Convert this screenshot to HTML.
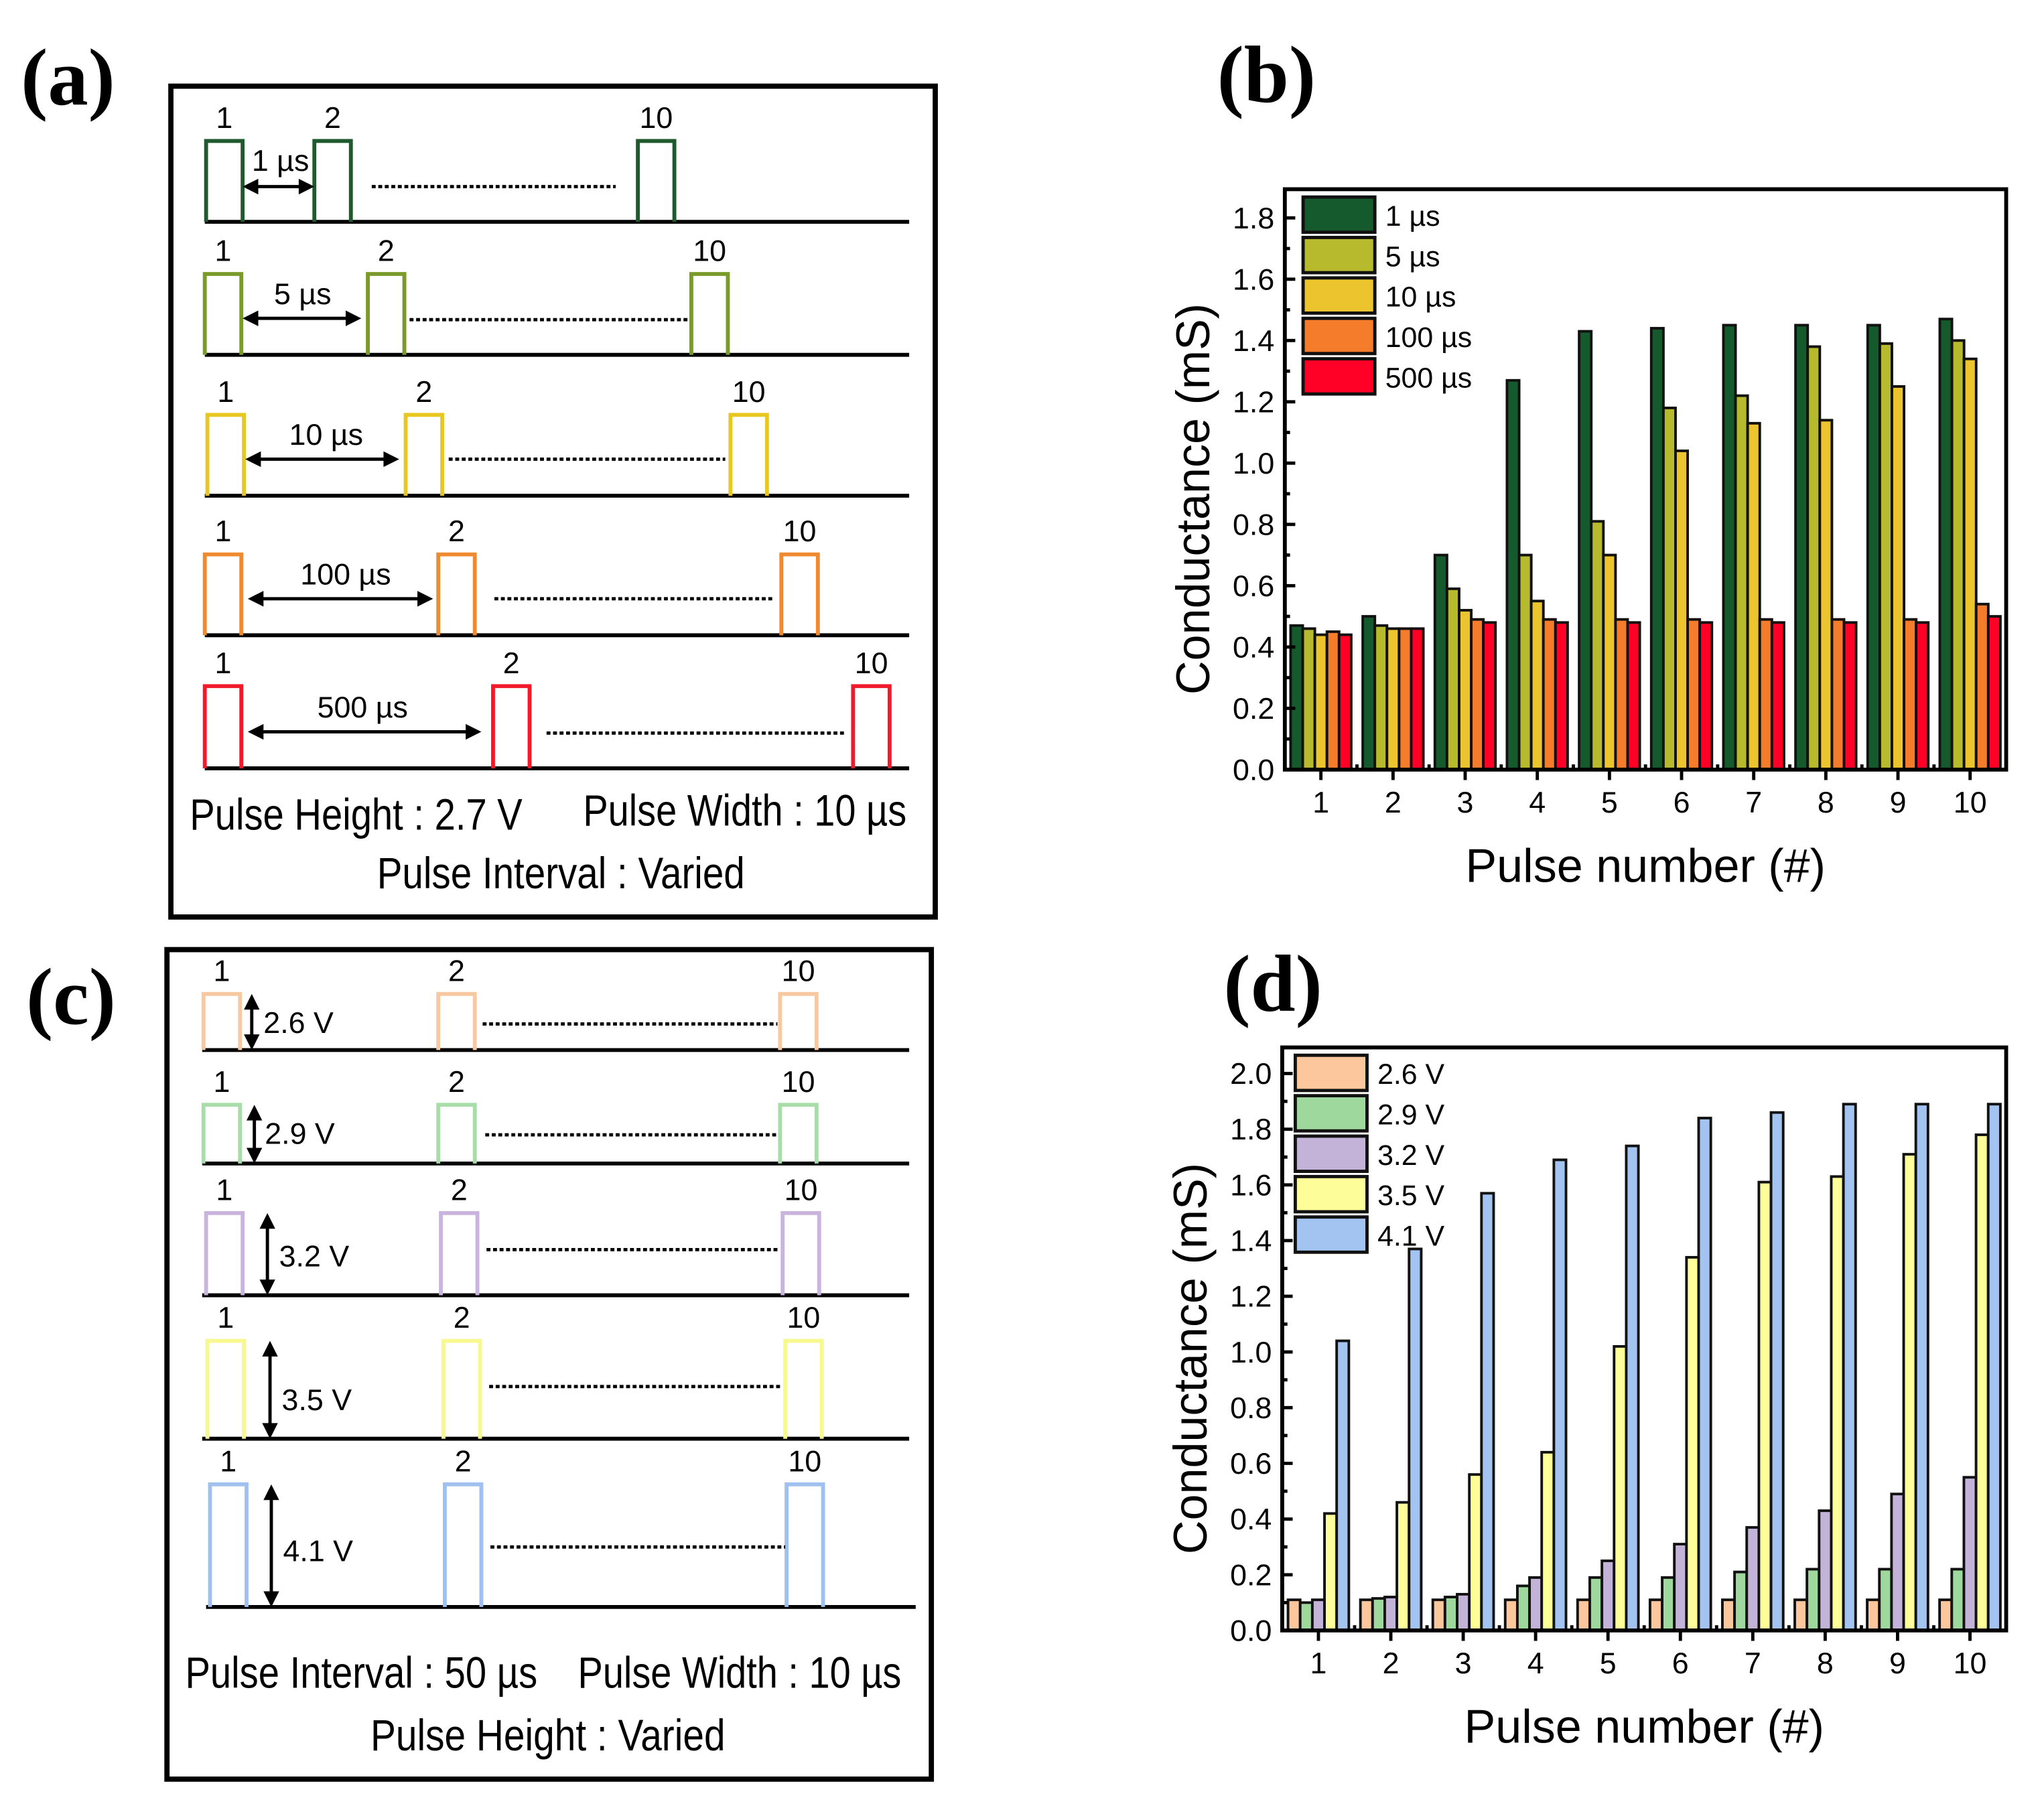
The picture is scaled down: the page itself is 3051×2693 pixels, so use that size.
<!DOCTYPE html>
<html><head><meta charset="utf-8"><style>html,body{margin:0;padding:0;background:#fff}svg{display:block}</style></head>
<body>
<svg id="fig" xmlns="http://www.w3.org/2000/svg" width="3051" height="2693" viewBox="0 0 1567 1383" font-family="'Liberation Sans', sans-serif">
<rect width="1600" height="1400" fill="#fff"/>
<g id="schem"></g>
<g id="chartB"></g>
<g id="chartD"></g>
</svg>
<script>
// ---- Chart data ----
const categories = [1,2,3,4,5,6,7,8,9,10];
const seriesBNames = ['1 µs','5 µs','10 µs','100 µs','500 µs'];
const b1us = [0.47,0.50,0.70,1.27,1.43,1.44,1.45,1.45,1.45,1.47];
const b5us = [0.46,0.47,0.59,0.70,0.81,1.18,1.22,1.38,1.39,1.40];
const b10us = [0.44,0.46,0.52,0.55,0.70,1.04,1.13,1.14,1.25,1.34];
const b100us = [0.45,0.46,0.49,0.49,0.49,0.49,0.49,0.49,0.49,0.54];
const b500us = [0.44,0.46,0.48,0.48,0.48,0.48,0.48,0.48,0.48,0.50];
const yTicksB = [0.0,0.2,0.4,0.6,0.8,1.0,1.2,1.4,1.6,1.8];
const seriesDNames = ['2.6 V','2.9 V','3.2 V','3.5 V','4.1 V'];
const d26 = [0.11,0.11,0.11,0.11,0.11,0.11,0.11,0.11,0.11,0.11];
const d29 = [0.10,0.115,0.12,0.16,0.19,0.19,0.21,0.22,0.22,0.22];
const d32 = [0.11,0.12,0.13,0.19,0.25,0.31,0.37,0.43,0.49,0.55];
const d35 = [0.42,0.46,0.56,0.64,1.02,1.34,1.61,1.63,1.71,1.78];
const d41 = [1.04,1.37,1.57,1.69,1.74,1.84,1.86,1.89,1.89,1.89];
const yTicksD = [0.0,0.2,0.4,0.6,0.8,1.0,1.2,1.4,1.6,1.8,2.0];

const NS='http://www.w3.org/2000/svg';
function mk(parent,tag,attrs,text){const e=document.createElementNS(NS,tag);for(const k in attrs)e.setAttribute(k,attrs[k]);if(text!==undefined)e.textContent=text;parent.appendChild(e);return e;}

function chart(g,cfg){
  const {x0,x1,yTop,yBot,ymax,series,colors,names,yTicks,legY,legX,stroke,labelY,name}=cfg;
  const xs=c=>x0+(c-0.5)/10*(x1-x0);
  const ys=v=>yBot-v/ymax*(yBot-yTop);
  const gw=(x1-x0)/10, bw=gw*0.168;
  series.forEach((s,si)=>{
    s.forEach((v,i)=>{
      const cx=xs(categories[i]);
      const r=mk(g,'rect',{x:cx-2.5*bw+si*bw,y:ys(v),width:bw,height:yBot-ys(v),fill:colors[si],stroke:stroke,'stroke-width':2});
      
      
    });
  });
  yTicks.forEach(t=>{
    const y=ys(t);
    mk(g,'line',{x1:x0,x2:x0+8,y1:y,y2:y,stroke:'#000','stroke-width':2.5});
    const ym=ys(t+ (yTicks[1]-yTicks[0])/2);
    if(ym>yTop) mk(g,'line',{x1:x0,x2:x0+4,y1:ym,y2:ym,stroke:'#000','stroke-width':2.5});
    const tl=mk(g,'text',{x:x0-8,y:y+8,'font-size':23,'text-anchor':'end'},t.toFixed(1));
    
    
  });
  categories.forEach(c=>{
    const x=xs(c);
    mk(g,'line',{x1:x,x2:x,y1:yBot,y2:yBot+8,stroke:'#000','stroke-width':2.5});
    const xm=xs(c+0.5);
    if(xm<x1) mk(g,'line',{x1:xm,x2:xm,y1:yBot,y2:yBot-4,stroke:'#000','stroke-width':2.5});
    const tl=mk(g,'text',{x:x,y:yBot+33,'font-size':23,'text-anchor':'middle'},String(c));
    
    
  });
  const fr=mk(g,'rect',{x:x0,y:yTop,width:x1-x0,height:yBot-yTop,fill:'none',stroke:'#000','stroke-width':3});
  
  
  names.forEach((n,i)=>{
    const y=legY+i*31;
    const lb=mk(g,'rect',{x:legX,y:y,width:55,height:27,fill:colors[i],stroke:'#111','stroke-width':2.5});
    
    
    const lt=mk(g,'text',{x:legX+63,y:y+22,'font-size':22},n);
    
    
  });
  const yt=mk(g,'text',{x:0,y:0,'font-size':36,'text-anchor':'middle',transform:`translate(${x0-58},${(yTop+yBot)/2+15}) rotate(-90)`},'Conductance (mS)');
  
  
  const xt=mk(g,'text',{x:(x0+x1)/2,y:labelY,'font-size':36,'text-anchor':'middle'},'Pulse number (#)');
  
  
}
chart(document.getElementById('chartB'),{name:'chart-b',x0:985,x1:1538,yTop:145,yBot:590,ymax:(590-145)/235,series:[b1us,b5us,b10us,b100us,b500us],colors:['#155a2d','#b8ba2e','#ecc42e','#f47c2a','#ff0026'],names:seriesBNames,yTicks:yTicksB,legX:999,legY:151,stroke:'#111',labelY:676});
chart(document.getElementById('chartD'),{name:'chart-d',x0:983,x1:1538,yTop:803,yBot:1250,ymax:(1250-803)/213.5,series:[d26,d29,d32,d35,d41],colors:['#fcc79c','#9fd89c','#c3b3d9','#fdfd9a','#a3c4f0'],names:seriesDNames,yTicks:yTicksD,legX:993,legY:809,stroke:'#111',labelY:1336});

// ---- Schematics ----
const S=document.getElementById('schem');
function panelLabel(t,x,y){const e=mk(S,'text',{x:x,y:y,'font-size':62,'font-weight':'bold','font-family':"'Liberation Serif', serif"},t);}
panelLabel('(a)',16,80);panelLabel('(b)',933,78);panelLabel('(c)',20,785);panelLabel('(d)',938,775);
function box(x,y,w,h,n){const e=mk(S,'rect',{x:x,y:y,width:w,height:h,fill:'none',stroke:'#000','stroke-width':4});}
box(131,66,586,637,'panel-a-box');box(128,728,586,636,'panel-c-box');
function arrowH(x1,x2,y){mk(S,'line',{x1:x1+8,x2:x2-8,y1:y,y2:y,stroke:'#000','stroke-width':2.5});
  mk(S,'polygon',{points:`${x1},${y} ${x1+12},${y-6} ${x1+12},${y+6}`,fill:'#000'});
  mk(S,'polygon',{points:`${x2},${y} ${x2-12},${y-6} ${x2-12},${y+6}`,fill:'#000'});}
function arrowV(x,y1,y2){mk(S,'line',{x1:x,x2:x,y1:y1+8,y2:y2-8,stroke:'#000','stroke-width':2.5});
  mk(S,'polygon',{points:`${x},${y1} ${x-6},${y1+12} ${x+6},${y1+12}`,fill:'#000'});
  mk(S,'polygon',{points:`${x},${y2} ${x-6},${y2-12} ${x+6},${y2-12}`,fill:'#000'});}
function row(r){
  const g=mk(S,'g',{});
  
  
  mk(g,'line',{x1:r.lx0,x2:r.lx1,y1:r.base,y2:r.base,stroke:'#000','stroke-width':3});
  const nums=['1','2','10'];
  r.px.forEach((x,i)=>{
    mk(g,'path',{d:`M${x},${r.base} V${r.top} H${x+28} V${r.base}`,fill:'none',stroke:r.col,'stroke-width':3});
    mk(g,'text',{x:x+14,y:r.top-10,'font-size':23,'text-anchor':'middle'},nums[i]);
  });
  mk(g,'line',{x1:r.d0,x2:r.d1,y1:r.dy,y2:r.dy,stroke:'#000','stroke-width':2.5,'stroke-dasharray':'3,2'});
  if(r.v){arrowV(r.ax,r.top,r.base);}else{arrowH(r.a0,r.a1,r.ay);}
  mk(g,'text',{x:r.tx,y:r.ty,'font-size':23,'text-anchor':r.v?'start':'middle'},r.lab);
}
[
 {base:170,top:108,px:[158,241,489],col:'#1f5a2e',a0:186,a1:241,ay:143,lab:'1 µs',tx:215,ty:131,d0:285,d1:472,dy:143,lx0:157,lx1:697},
 {base:272,top:210,px:[157,282,530],col:'#7a9a2a',a0:186,a1:277,ay:244,lab:'5 µs',tx:232,ty:233,d0:314,d1:527,dy:245,lx0:157,lx1:697},
 {base:380,top:318,px:[159,311,560],col:'#e8c820',a0:188,a1:306,ay:352,lab:'10 µs',tx:250,ty:341,d0:344,d1:556,dy:352,lx0:157,lx1:697},
 {base:487,top:425,px:[157,336,599],col:'#f08a30',a0:190,a1:332,ay:459,lab:'100 µs',tx:265,ty:448,d0:379,d1:592,dy:459,lx0:157,lx1:697},
 {base:589,top:526,px:[157,378,654],col:'#f01a2a',a0:190,a1:369,ay:561,lab:'500 µs',tx:278,ty:550,d0:419,d1:647,dy:562,lx0:157,lx1:697},
 {base:805,top:762,px:[156,336,598],col:'#f8c8a0',v:1,ax:193,lab:'2.6 V',tx:202,ty:792,d0:370,d1:596,dy:785,lx0:155,lx1:697},
 {base:892,top:847,px:[156,336,598],col:'#a8dca8',v:1,ax:195,lab:'2.9 V',tx:203,ty:877,d0:372,d1:597,dy:870,lx0:155,lx1:697},
 {base:993,top:930,px:[158,338,600],col:'#c8b4dc',v:1,ax:205,lab:'3.2 V',tx:214,ty:971,d0:373,d1:598,dy:958,lx0:155,lx1:697},
 {base:1103,top:1028,px:[159,340,602],col:'#f8f890',v:1,ax:207,lab:'3.5 V',tx:216,ty:1081,d0:375,d1:600,dy:1063,lx0:155,lx1:697},
 {base:1232,top:1138,px:[161,341,603],col:'#a0c0f0',v:1,ax:208,lab:'4.1 V',tx:217,ty:1197,d0:376,d1:602,dy:1186,lx0:158,lx1:702}
].forEach(row);
function cond(t,x,y,w,n){const e=mk(S,'text',{x:x,y:y,'font-size':34,'text-anchor':'middle',textLength:w,lengthAdjust:'spacingAndGlyphs'},t);}
cond('Pulse Height : 2.7 V',273,636,255,'pulse-height-note');
cond('Pulse Width : 10 µs',571,633,248,'pulse-width-note');
cond('Pulse Interval : Varied',430,681,282,'pulse-interval-note');
cond('Pulse Interval : 50 µs',277,1294,270,'pulse-interval-note-c');
cond('Pulse Width : 10 µs',567,1294,248,'pulse-width-note-c');
cond('Pulse Height : Varied',420,1342,272,'pulse-height-note-c');
</script>
</body></html>
